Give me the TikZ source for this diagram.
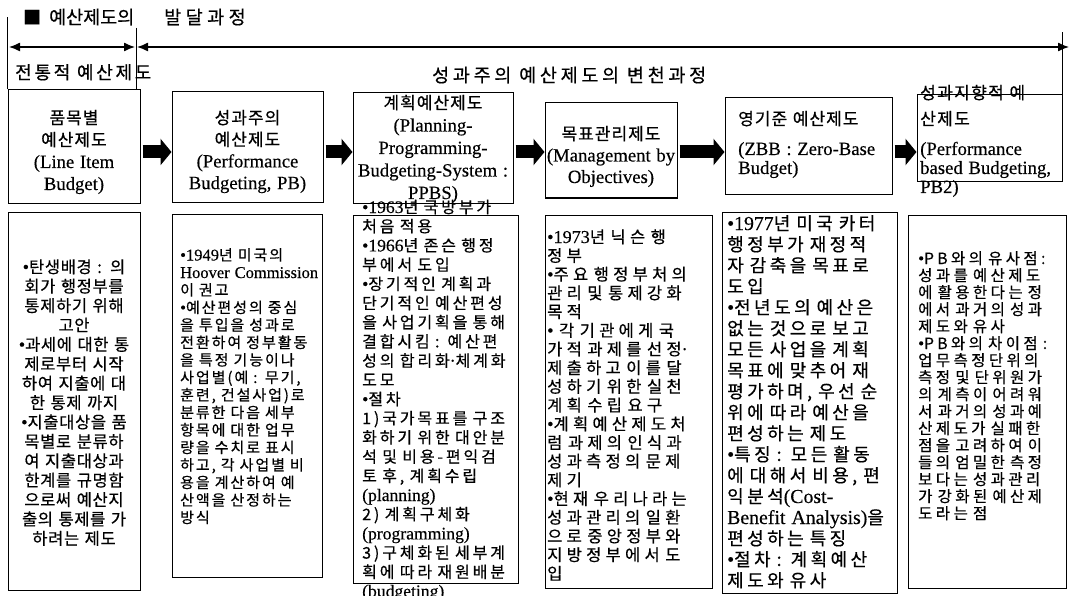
\documentclass[tikz,border=0pt]{standalone}
\usepackage{fontspec}
\setmainfont{Noto Sans CJK KR}[FakeBold=0.5]
\newfontfamily\tmfont{Liberation Serif}[Scale=1.1,FakeBold=0.3]
\usetikzlibrary{arrows.meta}
\newcommand\tm[1]{{\tmfont #1}}
\newcommand\bl{{\tmfont •}}
\newcommand\md{{\tmfont ·}}
\newcommand\ff[3]{\fontsize{#1}{#2}\selectfont\addfontfeature{LetterSpace=#3}}
\tikzset{
 box/.style={draw, line width=1pt, inner sep=0pt},
 txt/.style={inner sep=0pt, text width=200pt, align=left, anchor=base west},
 ctxt/.style={inner sep=0pt, text width=200pt, align=center, anchor=base},
 barrow/.style={line width=13pt, -{Triangle[length=11pt,width=26pt]}, shorten <=2pt},
 period/.style={line width=1.3pt, {Latex[length=11pt,width=9pt]}-{Latex[length=11pt,width=9pt]}},
 divider/.style={line width=0.8pt}
}
\begin{document}
\begin{tikzpicture}[x=1pt,y=-1pt]
\fill[white] (0,0) rectangle (1070,596);
\useasboundingbox (0,0) rectangle (1070,596);

% title and period labels
\node[anchor=base west, inner sep=0pt, font=\fontsize{18}{18}\selectfont] (sq) at (23,24) {■};
\node[anchor=base west, inner sep=0pt, font=\fontsize{18.5}{18}\selectfont] (title) at (49,24)
  {예산제도의\hspace{30pt}{\addfontfeature{LetterSpace=24}발달과정}};
\node[anchor=base west, inner sep=0pt, font=\ff{18}{18}{15}] (trad) at (15,79) {전통적 예산제도};
\node[anchor=base west, inner sep=0pt, font=\ff{18.5}{18}{20}] (perf) at (432,82) {성과주의 예산제도의 변천과정};

% top boxes
\node[box, minimum width=132pt, minimum height=113pt] (t1) at (74,146.5) {};
\node[box, minimum width=151pt, minimum height=110pt] (t2) at (247.5,147) {};
\node[box, minimum width=160pt, minimum height=110pt] (t3) at (433,148) {};
\node[box, minimum width=132pt, minimum height=95pt] (t4) at (611,150.5) {};
\node[box, minimum width=167pt, minimum height=97pt] (t5) at (808.5,146.5) {};
\node[box, minimum width=145pt, minimum height=87pt] (t6) at (989.5,138.5) {};

% period lines
\coordinate (p0) at (9,47);
\coordinate (p1) at (135,47);
\coordinate (p2) at (137,47);
\coordinate (p3) at (1069,47);
\draw[period] (p0) -- (p1);
\draw[period] (p2) -- (p3);
\draw[divider] (t1.north west) -- ++(0,-72);
\draw[divider] (136,28) -- (136,90);
\draw[divider] (t6.north east) -- ++(0,-62);

% top texts
\node[ctxt, font=\ff{17}{22}{6}] (t1x) at (74,124)
  {품목별\\예산제도\\\tm{(Line Item}\\\tm{Budget)}};
\node[ctxt, font=\ff{17}{21.7}{6}] (t2x) at (247.5,124)
  {성과주의\\예산제도\\\tm{(Performance}\\\tm{Budgeting, PB)}};
\node[ctxt, font=\ff{17}{22.5}{6}] (t3x) at (433,109)
  {계획예산제도\\\tm{(Planning-}\\\tm{Programming-}\\\tm{Budgeting-System :}\\\tm{PPBS)}};
\node[ctxt, font=\ff{17}{21.5}{6}] (t4x) at (611,140)
  {목표관리제도\\\tm{(Management by}\\\tm{Objectives)}};
\node[txt, font=\ff{17}{19}{6}] (t5x) at (738,125)
  {영기준 예산제도\\[11pt]\tm{(ZBB : Zero-Base}\\\tm{Budget)}};
\node[txt, font=\ff{17}{19}{8}] (t6x) at (920,99)
  {성과지향적 예\\[7pt]산제도\\[11pt]\tm{(Performance}\\\tm{based Budgeting,}\\\tm{PB2)}};

% block arrows
\coordinate (ay) at (0,152);
\foreach \a/\b in {t1/t2,t2/t3,t3/t4,t4/t5,t5/t6}
  \draw[barrow] (\a.east |- ay) -- (\b.west |- ay);

% bottom boxes
\node[box, minimum width=132pt, minimum height=378pt] (b1) at (74,401) {};
\node[box, minimum width=150pt, minimum height=363pt] (b2) at (247,395.5) {};
\node[box, minimum width=165pt, minimum height=368pt] (b3) at (435.5,399) {};
\node[box, minimum width=167pt, minimum height=373pt] (b4) at (628.5,401.5) {};
\node[box, minimum width=175pt, minimum height=381pt] (b5) at (809.5,402.5) {};
\node[box, minimum width=158pt, minimum height=373pt] (b6) at (987,401.5) {};

% bottom texts
\node[ctxt, font=\ff{16.5}{19.4}{4}] (b1x) at (74,273)
  {\bl 탄생배경 : 의\\회가 행정부를\\통제하기 위해\\고안\\\bl 과세에 대한 통\\제로부터 시작\\하여 지출에 대\\한 통제 까지\\\bl 지출대상을 품\\목별로 분류하\\여 지출대상과\\한계를 규명함\\으로써 예산지\\출의 통제를 가\\하려는 제도};
\node[txt, font=\ff{15}{17.5}{13}] (b2x) at (180,260.5)
  {\bl\tm{1949}년 미국의\\\tm{Hoover Commission}\\이 권고\\\bl 예산편성의 중심\\을 투입을 성과로\\전환하여 정부활동\\을 특정 기능이나\\사업별(예 : 무기,\\훈련, 건설사업)로\\분류한 다음 세부\\항목에 대한 업무\\량을 수치로 표시\\하고, 각 사업별 비\\용을 계산하여 예\\산액을 산정하는\\방식};
\node[txt, font=\ff{16}{19.2}{18}] (b3x) at (362,213)
  {\bl\tm{1963}년 국방부가\\처음 적용\\\bl\tm{1966}년 존슨 행정\\부에서 도입\\\bl 장기적인 계획과\\단기적인 예산편성\\을 사업기획을 통해\\결합시킴 : 예산편\\성의 합리화\md 체계화\\도모\\\bl 절차\\1)국가목표를 구조\\화하기 위한 대안분\\석 및 비용-편익검\\토 후, 계획수립\\\tm{(planning)}\\2) 계획구체화\\\tm{(programming)}\\3)구체화된 세부계\\획에 따라 재원배분\\\tm{(budgeting)}};
\node[txt, font=\ff{16.5}{18.7}{26}] (b4x) at (547,243)
  {\bl\tm{1973}년 닉슨 행\\정부\\\bl 주요 행정부처의\\관리 및 통제강화\\목적\\\bl\ 각 기관에게 국\\가적 과제를 선정\md\\제출하고 이를 달\\성하기 위한 실천\\계획 수립 요구\\\bl 계획예산제도처\\럼 과제의 인식과\\성과측정의 문제\\제기\\\bl 현재 우리나라는\\성과관리의 일환\\으로 중앙정부와\\지방정부에서 도\\입};
\node[txt, font=\ff{18}{21}{19}] (b5x) at (727,230)
  {\bl\tm{1977}년 미국 카터\\행정부가 재정적\\자 감축을 목표로\\도입\\\bl 전년도의 예산은\\없는 것으로 보고\\모든 사업을 계획\\목표에 맞추어 재\\평가하며, 우선 순\\위에 따라 예산을\\편성하는 제도\\\bl 특징 : 모든 활동\\에 대해서 비용, 편\\익분석\tm{(Cost-}\\\tm{Benefit Analysis)}을\\편성하는 특징\\\bl 절차 : 계획예산\\제도와 유사};
\node[txt, font=\ff{15.5}{17}{22}] (b6x) at (918,264)
  {\bl PB와의 유사점:\\성과를 예산제도\\에 활용한다는 정\\에서 과거의 성과\\제도와 유사\\\bl PB와의 차이점 :\\업무측정단위의\\측정 및 단위원가\\의 계측이 어려워\\서 과거의 성과예\\산제도가 실패한\\점을 고려하여 이\\들의 엄밀한 측정\\보다는 성과관리\\가 강화된 예산제\\도라는 점};
\end{tikzpicture}
\end{document}
